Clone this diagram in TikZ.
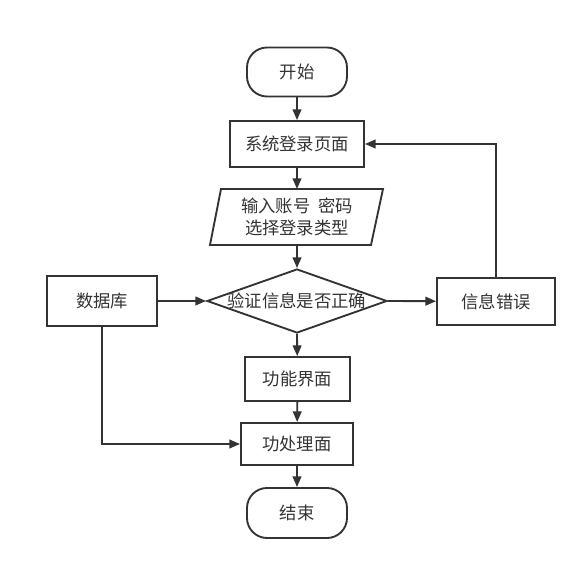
\documentclass[tikz,border=0pt]{standalone}
\usepackage{fontspec}
\setmainfont{Noto Sans CJK SC}
\usetikzlibrary{arrows.meta,shapes.geometric}
\definecolor{ink}{HTML}{333333}
\begin{document}
\begin{tikzpicture}[x=0.75pt,y=-0.75pt,
  every node/.style={text=ink,font=\fontsize{13pt}{17pt}\selectfont},
  box/.style={draw=ink,line width=1.4pt,rectangle,inner sep=0pt},
  term/.style={box,rounded corners=15pt},
  arr/.style={draw=ink,line width=1.4pt,-{Triangle[length=8pt,width=6.5pt]}}]
\path[use as bounding box] (0,0) rectangle (587,570);
\node[term,minimum width=75pt,minimum height=36.75pt] (start) at (297,72) {开始};
\node[box,minimum width=100.5pt,minimum height=34.5pt] (login) at (297,144) {系统登录页面};
\coordinate (inpT) at (297,189);
\coordinate (inpB) at (297,245);
\draw[draw=ink,line width=1.4pt,line join=miter] (221,189) -- (383,189) -- (371,245) -- (210,245) -- cycle;
\node[align=center] (inp) at (297,217) {输入账号\hspace{0.45em}密码\\选择登录类型};
\node[diamond,draw=ink,line width=1.4pt,minimum width=135pt,minimum height=48pt,inner sep=0pt] (dec) at (297,301) {};
\node (dectxt) at (297,301) {验证信息是否正确};
\node[box,minimum width=82.5pt,minimum height=37.5pt] (db) at (102,301) {数据库};
\node[box,minimum width=88.5pt,minimum height=35.25pt] (err) at (496,301.5) {信息错误};
\node[box,minimum width=78.75pt,minimum height=33pt] (func) at (297.5,379) {功能界面};
\node[box,minimum width=84pt,minimum height=31.5pt] (proc) at (297,444) {功处理面};
\node[term,minimum width=75pt,minimum height=37.5pt] (end) at (297,513) {结束};
\draw[arr] (start) -- (login);
\draw[arr] (login) -- (inpT);
\draw[arr] (inpB) -- (dec.north);
\draw[arr] (db) -- (dec.west);
\draw[arr] (dec.east) -- (err);
\draw[arr] (err.north) |- (login.east);
\draw[arr] (dec.south) -- (func);
\draw[arr] (func) -- (proc);
\draw[arr] (db.south) |- (proc.west);
\draw[arr] (proc) -- (end);
\end{tikzpicture}
\end{document}
